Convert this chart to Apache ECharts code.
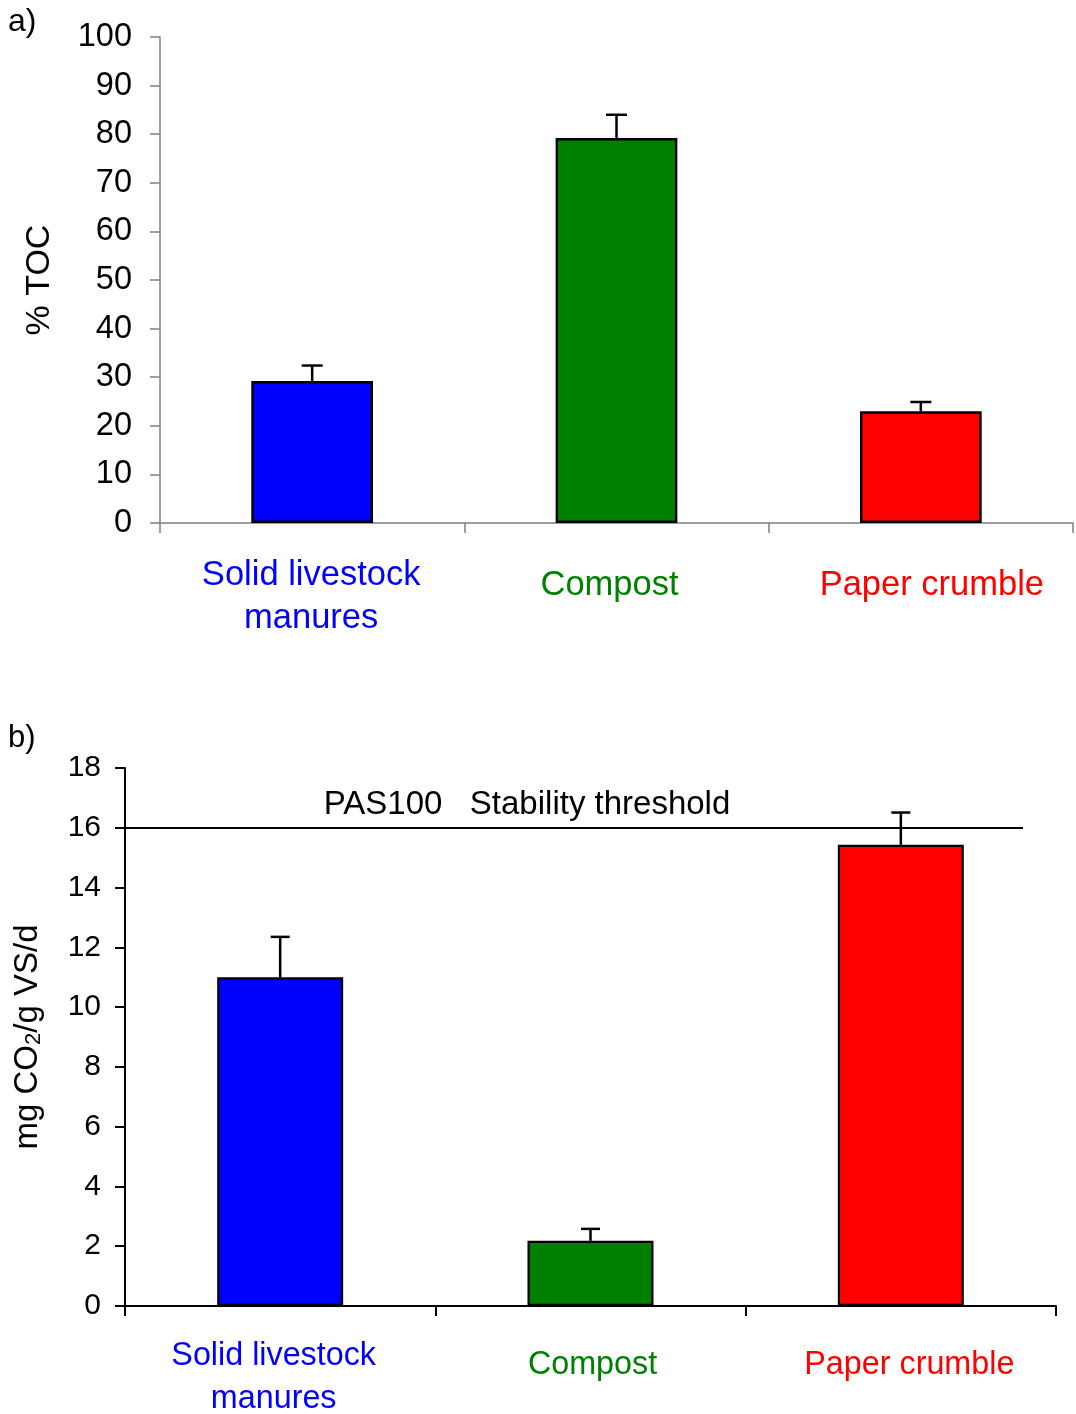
<!DOCTYPE html>
<html>
<head>
<meta charset="utf-8">
<script src="https://cdn.jsdelivr.net/npm/echarts@6/dist/echarts.min.js"></script>
<style>
  html, body { margin: 0; padding: 0; background: #fff; }
  #chart { width: 1076px; height: 1414px; }
</style>
</head>
<body>
<div id="chart"></div>
<script>
// Material categories and their colours
const categories = ['Solid livestock\nmanures', 'Compost', 'Paper crumble'];
const categoryColors = ['#0000FF', '#008000', '#FF0000'];

// a) Total organic carbon, % TOC (mean and upper error)
const tocMean = [29.2, 79.2, 23.0];
const tocErr = [3.2, 4.8, 1.9];
const tocTicks = { min: 0, max: 100, interval: 10 };

// b) Respiration rate, mg CO2/g VS/d (mean and upper error)
const co2Mean = [11.0, 2.18, 15.43];
const co2Err = [1.35, 0.4, 1.08];
const co2Ticks = { min: 0, max: 18, interval: 2 };

// PAS100 stability threshold
const thresholdValue = 16;
const thresholdText = 'PAS100   Stability threshold';

const FONT = 'Liberation Sans, Arial, Helvetica, sans-serif';

// label paddings: [top, right, bottom, left] per category
function categoryData(pads) {
  return categories.map((c, i) => ({
    value: c,
    textStyle: { color: categoryColors[i], padding: pads[i] }
  }));
}

function barData(values, borderWidth) {
  return values.map((v, i) => ({
    value: v,
    itemStyle: { color: categoryColors[i], borderColor: '#000', borderWidth: borderWidth }
  }));
}

function errData(means, errs) {
  return means.map((m, i) => [i, m, errs[i]]);
}

function errRender(capW, lw) {
  return function (params, api) {
    const x = api.value(0), m = api.value(1), e = api.value(2);
    const p0 = api.coord([x, m]);
    const p1 = api.coord([x, m + e]);
    return {
      type: 'group',
      children: [
        { type: 'line', shape: { x1: p0[0], y1: p0[1], x2: p1[0], y2: p1[1] },
          style: { stroke: '#000', lineWidth: lw } },
        { type: 'line', shape: { x1: p1[0] - capW / 2, y1: p1[1], x2: p1[0] + capW / 2, y2: p1[1] },
          style: { stroke: '#000', lineWidth: lw } }
      ]
    };
  };
}

const chart = echarts.init(document.getElementById('chart'), null, { renderer: 'canvas' });

const gridBase = { containLabel: false, outerBoundsMode: 'none' };

const option = {
  animation: false,
  backgroundColor: '#fff',
  textStyle: { fontFamily: FONT },
  title: [
    { text: 'a)', left: 3, top: 1, textStyle: { fontFamily: FONT, fontSize: 32, fontWeight: 'normal', color: '#000' } },
    { text: 'b)', left: 3, top: 718, textStyle: { fontFamily: FONT, fontSize: 31, fontWeight: 'normal', color: '#000' } }
  ],
  grid: [
    Object.assign({ left: 160, right: 3, top: 37, height: 486 }, gridBase),
    Object.assign({ left: 125, right: 20, top: 768, height: 538 }, gridBase),
    Object.assign({ left: 125, right: 53, top: 768, height: 538 }, gridBase)
  ],
  xAxis: [
    {
      gridIndex: 0, type: 'category',
      data: categoryData([[0, 2, 0, 0], [10, 14, 0, 0], [10, 0, 0, 22]]),
      axisLine: { lineStyle: { color: '#808080', width: 1.5 } },
      axisTick: { show: true, length: 10, interval: 0, lineStyle: { color: '#808080', width: 1.5 } },
      axisLabel: { interval: 0, margin: 31, fontSize: 34.5, lineHeight: 43, fontFamily: FONT, verticalAlign: 'top' }
    },
    {
      gridIndex: 1, type: 'category',
      data: categoryData([[0, 13, 0, 0], [9, 0, 0, 4], [9, 0, 0, 17]]),
      axisLine: { lineStyle: { color: '#000', width: 2 } },
      axisTick: { show: true, length: 10, interval: 0, lineStyle: { color: '#000', width: 2 } },
      axisLabel: { interval: 0, margin: 29, fontSize: 32.3, lineHeight: 43, fontFamily: FONT, verticalAlign: 'top' }
    },
    { gridIndex: 2, type: 'value', min: 0, max: 1, show: false }
  ],
  yAxis: [
    {
      gridIndex: 0, type: 'value', min: tocTicks.min, max: tocTicks.max, interval: tocTicks.interval,
      name: '% TOC', nameLocation: 'middle', nameGap: 103,
      nameTextStyle: { fontFamily: FONT, fontSize: 34, color: '#000' },
      axisLine: { show: true, lineStyle: { color: '#808080', width: 1.5 } },
      axisTick: { show: true, length: 10, lineStyle: { color: '#808080', width: 1.5 } },
      axisLabel: { margin: 28, fontSize: 32.5, color: '#000', fontFamily: FONT },
      splitLine: { show: false }
    },
    {
      gridIndex: 1, type: 'value', min: co2Ticks.min, max: co2Ticks.max, interval: co2Ticks.interval,
      name: '{n|mg CO}{s|2}{n|/g VS/d}', nameLocation: 'middle', nameGap: 80,
      nameTextStyle: {
        fontFamily: FONT, color: '#000',
        rich: {
          n: { fontFamily: FONT, fontSize: 33, color: '#000' },
          s: { fontFamily: FONT, fontSize: 22, color: '#000', verticalAlign: 'bottom', padding: [13, 0, 0, 0] }
        }
      },
      axisLine: { show: true, lineStyle: { color: '#000', width: 2 } },
      axisTick: { show: true, length: 10, lineStyle: { color: '#000', width: 2 } },
      axisLabel: { margin: 24, fontSize: 30, color: '#000', fontFamily: FONT },
      splitLine: { show: false }
    },
    { gridIndex: 2, type: 'value', min: co2Ticks.min, max: co2Ticks.max, show: false }
  ],
  series: [
    {
      type: 'bar', xAxisIndex: 0, yAxisIndex: 0, barWidth: '40%',
      data: barData(tocMean, 2.5), z: 2
    },
    {
      type: 'custom', xAxisIndex: 0, yAxisIndex: 0,
      renderItem: errRender(21, 2.5), data: errData(tocMean, tocErr), z: 3
    },
    {
      type: 'bar', xAxisIndex: 1, yAxisIndex: 1, barWidth: '40.6%',
      data: barData(co2Mean, 2.2), z: 2
    },
    {
      type: 'custom', xAxisIndex: 1, yAxisIndex: 1,
      renderItem: errRender(19, 2.5), data: errData(co2Mean, co2Err), z: 3
    },
    {
      type: 'line', xAxisIndex: 2, yAxisIndex: 2, data: [], z: 4,
      markLine: {
        silent: true, symbol: 'none',
        lineStyle: { color: '#000', width: 2, type: 'solid' },
        label: {
          show: true, position: 'insideMiddleTop', formatter: thresholdText,
          fontFamily: FONT, fontSize: 33, color: '#000', distance: 6,
          padding: [0, 94, 0, 0]
        },
        data: [{ yAxis: thresholdValue }]
      }
    }
  ]
};

chart.setOption(option);
</script>
</body>
</html>
